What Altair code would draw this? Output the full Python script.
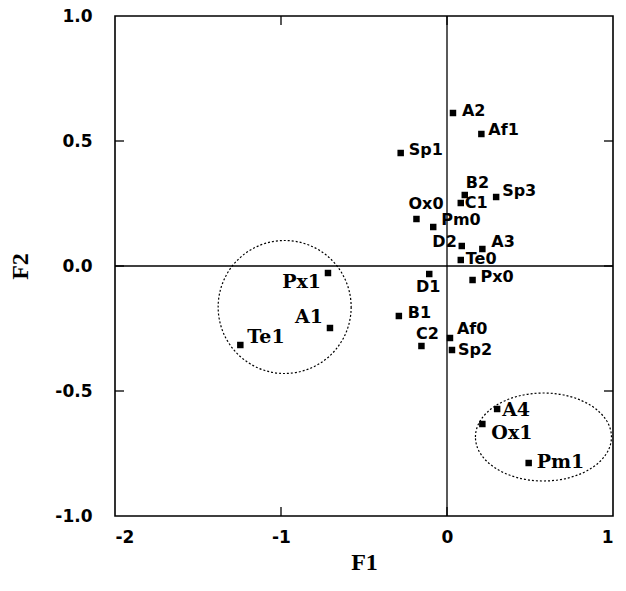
import altair as alt
import pandas as pd

# ---- data ----
labels = ["A2", "Af1", "Sp1", "B2", "Sp3", "C1", "Ox0", "Pm0", "D2", "A3", "Te0",
          "D1", "Px0", "B1", "Af0", "C2", "Sp2",
          "Px1", "A1", "Te1", "A4", "Ox1", "Pm1"]
f1 = [0.036, 0.207, -0.279, 0.107, 0.296, 0.083, -0.184, -0.083, 0.089, 0.213, 0.083,
      -0.107, 0.154, -0.290, 0.018, -0.154, 0.030,
      -0.717, -0.705, -1.245, 0.302, 0.213, 0.492]
f2 = [0.612, 0.528, 0.452, 0.284, 0.276, 0.252, 0.188, 0.156, 0.080, 0.068, 0.024,
      -0.032, -0.056, -0.200, -0.288, -0.320, -0.336,
      -0.028, -0.248, -0.316, -0.572, -0.632, -0.788]
highlighted = ["Px1", "A1", "Te1", "A4", "Ox1", "Pm1"]

# encircled groups (centres in data units)
group_f1 = [-0.978, 0.581]
group_f2 = [-0.164, -0.684]

x_ticks = [-2, -1, 0, 1]
y_ticks = [-1.0, -0.5, 0.0, 0.5, 1.0]

# ---- styling / placement ----
W, H = 498, 500
place = {  # dx, dy, align
    "A2": (9, -2, "left"), "Af1": (7, -4, "left"), "Sp1": (8, -3, "left"),
    "B2": (1, -12, "left"), "Sp3": (6, -6, "left"), "C1": (4, 0, "left"),
    "Ox0": (-8, -15, "left"), "Pm0": (8, -7, "left"), "D2": (-5, -4, "right"),
    "A3": (9, -7, "left"), "Te0": (5, -1, "left"), "D1": (-1, 13, "center"),
    "Px0": (8, -3, "left"), "B1": (9, -3, "left"), "Af0": (7, -9, "left"),
    "C2": (6, -12, "center"), "Sp2": (6, 0, "left"),
    "Px1": (-7, 9, "right"), "A1": (-7, -11, "right"), "Te1": (7, -8, "left"),
    "A4": (5, 1, "left"), "Ox1": (9, 9, "left"), "Pm1": (8, -1, "left"),
}

df = pd.DataFrame({"label": labels, "f1": f1, "f2": f2})

label_font = dict(labelFont="DejaVu Sans", labelFontSize=17, labelFontWeight="bold",
                  labelColor="black", labelExpr="replace(datum.label, '\u2212', '-')")
title_font = dict(titleFont="Liberation Serif", titleFontWeight="bold",
                  titleFontSize=24, titleColor="black")

xscale = alt.Scale(domain=[-2, 1], nice=False, zero=False)
yscale = alt.Scale(domain=[-1, 1], nice=False, zero=False)
xaxis = alt.Axis(values=x_ticks, format="d", title="F1", ticks=False, domain=False,
                 grid=False, labelPadding=13, titlePadding=5, **label_font, **title_font)
yaxis = alt.Axis(values=y_ticks, format=".1f", title="F2", ticks=False, domain=False,
                 grid=False, labelPadding=23, titlePadding=22, **label_font, **title_font)

X = alt.X("f1:Q", scale=xscale, axis=xaxis)
Y = alt.Y("f2:Q", scale=yscale, axis=yaxis)

points = alt.Chart(df).mark_square(size=42, color="black", opacity=1).encode(x=X, y=Y)

zero_df = pd.DataFrame({"f1": [0.0], "f2": [0.0]})
vline = alt.Chart(zero_df).mark_rule(color="black", strokeWidth=1.3).encode(x=X)
hline = alt.Chart(zero_df).mark_rule(color="black", strokeWidth=1.3).encode(y=Y)

xt_df = pd.DataFrame({"f1": [v for v in x_ticks if -2 < v < 1]})
yt_df = pd.DataFrame({"f2": [v for v in y_ticks if -1 < v < 1]})
tick_style = dict(color="black", strokeWidth=1.3)
xt_bottom = alt.Chart(xt_df).mark_rule(**tick_style).encode(x=X, y=alt.value(H), y2=alt.value(H - 9))
xt_top = alt.Chart(xt_df).mark_rule(**tick_style).encode(x=X, y=alt.value(0), y2=alt.value(9))
yt_left = alt.Chart(yt_df).mark_rule(**tick_style).encode(y=Y, x=alt.value(0), x2=alt.value(9))
yt_right = alt.Chart(yt_df).mark_rule(**tick_style).encode(y=Y, x=alt.value(W), x2=alt.value(W - 9))

circ_df = pd.DataFrame({"f1": [group_f1[0]], "f2": [group_f2[0]]})
ell_df = pd.DataFrame({"f1": [group_f1[1]], "f2": [group_f2[1]]})
ellipse_path = ("M -1 0 C -1 -0.357 -0.552 -0.647 0 -0.647 "
                "C 0.552 -0.647 1 -0.357 1 0 C 1 0.357 0.552 0.647 0 0.647 "
                "C -0.552 0.647 -1 0.357 -1 0 Z")
circle = alt.Chart(circ_df).mark_point(shape="circle", size=133 * 133, filled=False,
                                      color="black", strokeWidth=1.2, strokeDash=[2, 2],
                                      opacity=1).encode(x=X, y=Y)
ellipse = alt.Chart(ell_df).mark_point(shape=ellipse_path, size=136 * 136, filled=False,
                                       color="black", strokeWidth=1.2, strokeDash=[2, 2],
                                       opacity=1).encode(x=X, y=Y)

text_layers = []
for lab in labels:
    dx, dy, align = place[lab]
    sub = df[df["label"] == lab]
    if lab in highlighted:
        mk = alt.Chart(sub).mark_text(font="DejaVu Serif", fontWeight="bold", fontSize=19,
                                      dx=dx, dy=dy, align=align, baseline="middle",
                                      color="black")
    else:
        mk = alt.Chart(sub).mark_text(font="DejaVu Sans", fontWeight="bold", fontSize=16,
                                      dx=dx, dy=dy, align=align, baseline="middle",
                                      color="black")
    text_layers.append(mk.encode(x=X, y=Y, text="label:N"))

chart = alt.layer(vline, hline, xt_bottom, xt_top, yt_left, yt_right,
                  circle, ellipse, points, *text_layers).properties(
    width=W, height=H,
    autosize=alt.AutoSizeParams(type="none"),
    padding={"left": 107, "top": 8, "right": 5, "bottom": 60},
    background="white",
).configure_view(stroke="black", strokeWidth=1.6)

chart.save("out.html", embed_options={"renderer": "svg", "actions": False})
